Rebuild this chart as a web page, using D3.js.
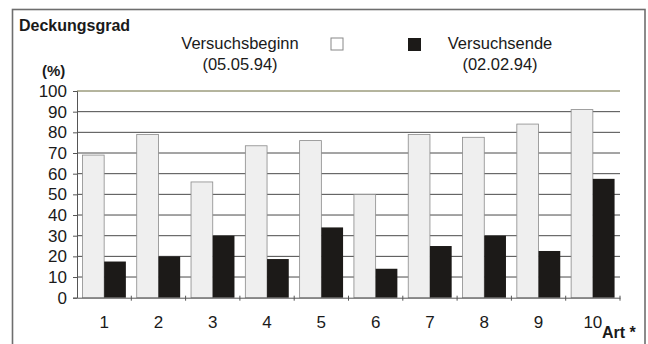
<!DOCTYPE html>
<html><head><meta charset="utf-8">
<script src="https://cdn.jsdelivr.net/npm/d3@7"></script>
<style>
body{margin:0;background:#fff;}
svg{display:block;font-family:"Liberation Sans",Arial,sans-serif;}
</style></head>
<body>
<script>
const categories = ["1","2","3","4","5","6","7","8","9","10"];
const beginnValues = [69, 79, 56, 73.5, 76, 50, 79, 77.6, 84, 91];
const endeValues = [17.5, 20, 30, 18.7, 34, 14, 25, 30, 22.6, 57.5];
const yTicks = [0,10,20,30,40,50,60,70,80,90,100];
const seriesNames = ["Versuchsbeginn", "Versuchsende"];
const seriesDates = ["(05.05.94)", "(02.02.94)"];

const W = 648, H = 344;
const svg = d3.select("body").append("svg").attr("width", W).attr("height", H);

// frame
svg.append("rect").attr("x", 12.5).attr("y", 9.5).attr("width", 632.5).attr("height", 345)
  .attr("fill", "none").attr("stroke", "#6e6e6e").attr("stroke-width", 1.6);

const x = d3.scaleBand().domain(categories).range([77, 620]).paddingInner(0.2).paddingOuter(0.1);
const y = d3.scaleLinear().domain([0, 100]).range([297.7, 91]);

// gridlines
svg.append("g").selectAll("line").data(yTicks.filter(d => d > 0)).join("line")
  .attr("x1", 77).attr("x2", 620).attr("y1", d => y(d)).attr("y2", d => y(d))
  .attr("stroke", d => d === 100 ? "#6b6a3c" : "#4a4a4a").attr("stroke-width", 1);

// y axis
const yAxis = d3.axisLeft(y).tickValues(yTicks).tickSize(4).tickFormat(d3.format("d"));
const gy = svg.append("g").attr("transform", "translate(77,0)").call(yAxis);
gy.select(".domain").attr("stroke", "#555");
gy.selectAll(".tick line").attr("stroke", "#555");
gy.selectAll("text").attr("font-size", 17).attr("fill", "#1a1a1a").attr("x", -10)
  .attr("font-family", "'Liberation Sans',Arial,sans-serif");

// bars
const inner = d3.scaleBand().domain([0, 1]).range([0, x.bandwidth()]);
const g = svg.append("g");
g.selectAll("rect.b").data(categories).join("rect").attr("class", "b")
  .attr("x", d => x(d) + inner(0)).attr("width", inner.bandwidth())
  .attr("y", (d, i) => y(beginnValues[i])).attr("height", (d, i) => y(0) - y(beginnValues[i]))
  .attr("fill", "#efefef").attr("stroke", "#8a8a8a").attr("stroke-width", 0.8);
g.selectAll("rect.e").data(categories).join("rect").attr("class", "e")
  .attr("x", d => x(d) + inner(1)).attr("width", inner.bandwidth())
  .attr("y", (d, i) => y(endeValues[i])).attr("height", (d, i) => y(0) - y(endeValues[i]))
  .attr("fill", "#1c1a18");

// x axis
const xAxis = d3.axisBottom(x).tickSize(0).tickPadding(18);
const gx = svg.append("g").attr("transform", `translate(0,${y(0)})`).call(xAxis);
gx.select(".domain").attr("stroke", "#555");
gx.selectAll("text").attr("font-size", 17).attr("fill", "#1a1a1a")
  .attr("font-family", "'Liberation Sans',Arial,sans-serif");
// boundary ticks
const bounds = categories.map(d => x(d) - x.step() * x.paddingInner() / 2).slice(1).concat([620]);
gx.selectAll("line.bt").data(bounds).join("line").attr("class", "bt")
  .attr("x1", d => d).attr("x2", d => d).attr("y1", -2).attr("y2", 3)
  .attr("stroke", "#555");

// titles
svg.append("text").attr("x", 19).attr("y", 31).attr("font-size", 16).attr("font-weight", "bold")
  .attr("fill", "#1a1a1a").text("Deckungsgrad");
svg.append("text").attr("x", 42).attr("y", 76).attr("font-size", 15).attr("font-weight", "bold")
  .attr("fill", "#1a1a1a").text("(%)");
svg.append("text").attr("x", 602).attr("y", 338).attr("font-size", 16).attr("font-weight", "bold")
  .attr("fill", "#1a1a1a").text("Art *");

// legend
const legendCx = [240, 500];
svg.selectAll("text.ln").data(seriesNames).join("text").attr("class", "ln")
  .attr("x", (d, i) => legendCx[i]).attr("y", 49).attr("text-anchor", "middle")
  .attr("font-size", 16.5).attr("fill", "#1a1a1a").text(d => d);
svg.selectAll("text.ld").data(seriesDates).join("text").attr("class", "ld")
  .attr("x", (d, i) => legendCx[i]).attr("y", 70).attr("text-anchor", "middle")
  .attr("font-size", 16.5).attr("fill", "#1a1a1a").text(d => d);
svg.append("rect").attr("x", 331).attr("y", 38).attr("width", 12).attr("height", 12)
  .attr("fill", "#fff").attr("stroke", "#888").attr("stroke-width", 1);
svg.append("rect").attr("x", 408).attr("y", 38).attr("width", 13).attr("height", 13)
  .attr("fill", "#1c1a18");
</script>
</body></html>
